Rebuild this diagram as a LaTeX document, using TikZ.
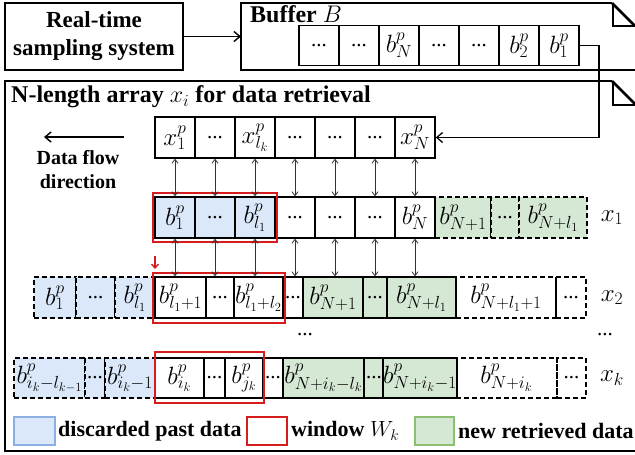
\RequirePackage{fix-cm}
\documentclass[tikz,border=0pt]{standalone}
\usepackage{fontspec}
\setmainfont{Liberation Serif}
\usetikzlibrary{arrows.meta}
\definecolor{bfill}{RGB}{218,232,250}
\definecolor{bedge}{RGB}{140,175,225}
\definecolor{gfill}{RGB}{213,232,212}
\definecolor{gedge}{RGB}{140,190,115}
\definecolor{wred}{RGB}{214,28,28}
\definecolor{arrgray}{RGB}{50,50,50}
\newcommand\dts{{\fontsize{21}{24}\selectfont ...}}
\begin{document}
\begin{tikzpicture}[x=1pt,y=-1pt,
  cellbox/.style={draw=black, line width=1.3pt, inner sep=0pt, minimum height=41pt, font=\fontsize{25}{27}\selectfont},
  dcell/.style={cellbox, dash pattern=on 5pt off 3pt, line width=1.6pt},
  bluec/.style={fill=bfill},
  greenc/.style={fill=gfill},
  win/.style={draw=wred, line width=1.6pt},
  bigbox/.style={draw=black, line width=2.6pt},
  dbl/.style={arrgray, line width=0.8pt, {Straight Barb[length=4pt,width=6pt]}-{Straight Barb[length=4pt,width=6pt]}},
  mainarrow/.style={black, line width=1.4pt, -{Straight Barb[length=6pt,width=10pt]}},
  lbl/.style={font=\bfseries\fontsize{22}{24}\selectfont, inner sep=0pt},
  rowlbl/.style={font=\fontsize{25}{27}\selectfont, inner sep=0pt}
]
\useasboundingbox (0,0) rectangle (635,455);

% ---------- top: sampling system and buffer ----------
\node[bigbox, minimum width=178pt, minimum height=67pt, align=center,
      font=\bfseries\fontsize{23}{28}\selectfont] (rt) at (94,36.5) {Real-time\\sampling system};

\draw[bigbox] (612,3) -- (241,3) -- (241,70) -- (635,70);
\draw[bigbox] (612,3) -- (635,26);
\draw[black, line width=2.2pt] (613,3) -- (613,26) -- (635,26);
\coordinate (bufW) at (241,36.5);
\node[lbl, anchor=base west, font=\bfseries\fontsize{24}{26}\selectfont] (buftitle) at (250,23) {Buffer $B$};

\begin{scope}[every node/.style={cellbox, minimum width=40pt, minimum height=40pt}]
\node (bu1) at (319,45.5) {\dts};
\node (bu2) at (359,45.5) {\dts};
\node (bu3) at (399,45.5) {$b^p_N$};
\node (bu4) at (439,45.5) {\dts};
\node (bu5) at (479,45.5) {\dts};
\node (bu6) at (519,45.5) {$b^p_2$};
\node (bu7) at (559,45.5) {$b^p_1$};
\end{scope}

\draw[mainarrow] (rt.east) -- (bufW);

% ---------- main box ----------
\draw[bigbox] (612,81) -- (5,81) -- (5,451) -- (635,451);
\draw[bigbox] (612,81) -- (635,104);
\draw[black, line width=2.2pt] (613,81) -- (613,105) -- (635,105);
\node[lbl, anchor=west, font=\bfseries\fontsize{24}{26}\selectfont] (title) at (11,97) {N-length array $x_i$ for data retrieval};

% data flow direction
\coordinate (df1) at (124,137);
\coordinate (df2) at (44,137);
\draw[mainarrow] (df1) -- (df2);
\node[lbl, align=center, font=\bfseries\fontsize{20}{24}\selectfont] (dftext) at (78,170) {Data flow\\direction};

% x row
\begin{scope}[every node/.style={cellbox, minimum width=40pt}]
\node (xa1) at (175,137.5) {$x^p_1$};
\node (xa2) at (215,137.5) {\dts};
\node (xa3) at (255,137.5) {$x^p_{l_k}$};
\node (xa4) at (295,137.5) {\dts};
\node (xa5) at (335,137.5) {\dts};
\node (xa6) at (375,137.5) {\dts};
\node (xa7) at (415,137.5) {$x^p_N$};
\end{scope}

\coordinate (turn) at (599,137.5);
\draw[mainarrow, line width=1.3pt] (bu7.east) -| (turn) -- (xa7.east);

% x1 row
\node[dcell, greenc, minimum width=56pt] (ra8) at (463,217.5) {$b^p_{N+1}$};
\node[dcell, greenc, minimum width=28pt] (ra9) at (505,217.5) {\dts};
\node[dcell, greenc, minimum width=68pt] (ra10) at (553,217.5) {$b^p_{N+l_1}$};
\begin{scope}[every node/.style={cellbox, minimum width=40pt}]
\node[bluec] (ra1) at (175,217.5) {$b^p_1$};
\node[bluec] (ra2) at (215,217.5) {\dts};
\node[bluec] (ra3) at (255,217.5) {$b^p_{l_1}$};
\node (ra4) at (295,217.5) {\dts};
\node (ra5) at (335,217.5) {\dts};
\node (ra6) at (375,217.5) {\dts};
\node (ra7) at (415,217.5) {$b^p_N$};
\end{scope}
\node[rowlbl] (lx1) at (612,217.5) {$x_1$};
\draw[win] (153,193) rectangle (277,242);

% x2 row
\node[dcell, bluec, minimum width=42pt] (sb1) at (55,297.5) {$b^p_1$};
\node[dcell, bluec, minimum width=39pt] (sb2) at (95.5,297.5) {\dts};
\node[dcell, bluec, minimum width=40pt] (sb3) at (135,297.5) {$b^p_{l_1}$};
\node[dcell, minimum width=100pt] (sb11) at (506,297.5) {$b^p_{N+l_1+1}$};
\node[dcell, minimum width=30pt] (sb12) at (571,297.5) {\dts};
\node[cellbox, minimum width=51pt] (sb4) at (180.5,297.5) {$b^p_{l_1+1}$};
\node[cellbox, minimum width=28pt] (sb5) at (220,297.5) {\dts};
\node[cellbox, minimum width=49pt] (sb6) at (258.5,297.5) {$b^p_{l_1+l_2}$};
\node[cellbox, minimum width=20pt] (sb7) at (293,297.5) {\dts};
\node[cellbox, greenc, minimum width=60pt] (sb8) at (333,297.5) {$b^p_{N+1}$};
\node[cellbox, greenc, minimum width=24pt] (sb9) at (375,297.5) {\dts};
\node[cellbox, greenc, minimum width=69pt] (sb10) at (421.5,297.5) {$b^p_{N+l_1}$};
\node[rowlbl] (lx2) at (612,297.5) {$x_2$};
\draw[win] (153,273) rectangle (285,323);

% arrows between rows
\foreach \i in {1,...,7} {
  \draw[dbl] (xa\i.south) -- (ra\i.north);
  \draw[dbl] (ra\i.south) -- (ra\i.south |- sb4.north);
}
\coordinate (rs) at (155,256);
\coordinate (re) at (155,269);
\draw[wred, line width=1.3pt, -{Straight Barb[length=4pt,width=7pt]}] (rs) -- (re);

% vertical dots
\node[inner sep=0pt] (vd1) at (305,335) {\dts};
\node[inner sep=0pt] (vd2) at (605,335) {\dts};

% xk row
\node[dcell, bluec, minimum width=71pt, minimum height=40pt] (kb1) at (49.5,378) {$b^p_{i_k-l_{k-1}}$};
\node[dcell, bluec, minimum width=20pt, minimum height=40pt] (kb2) at (95,378) {\dts};
\node[dcell, bluec, minimum width=50pt, minimum height=40pt] (kb3) at (130,378) {$b^p_{i_k-1}$};
\node[dcell, minimum width=101pt, minimum height=40pt] (kb11) at (506.5,378) {$b^p_{N+i_k}$};
\node[dcell, minimum width=29pt, minimum height=40pt] (kb12) at (571.5,378) {\dts};
\begin{scope}[every node/.style={cellbox, minimum height=40pt}]
\node[minimum width=49pt] (kb4) at (179.5,378) {$b^p_{i_k}$};
\node[minimum width=21pt] (kb5) at (214.5,378) {\dts};
\node[minimum width=38pt] (kb6) at (244,378) {$b^p_{j_k}$};
\node[minimum width=20pt] (kb7) at (273,378) {\dts};
\node[greenc, minimum width=81pt] (kb8) at (323.5,378) {$b^p_{N+i_k-l_k}$};
\node[greenc, minimum width=20pt] (kb9) at (374,378) {\dts};
\node[greenc, minimum width=72pt] (kb10) at (420,378) {$b^p_{N+i_k-1}$};
\end{scope}
\node[rowlbl] (lxk) at (612,378) {$x_k$};
\draw[win] (155,352) rectangle (264,403);

% legend
\node[draw=bedge, fill=bfill, line width=1.2pt, minimum width=41pt, minimum height=28pt, inner sep=0pt] (lgb) at (34.5,431) {};
\node[lbl, anchor=west] (lgbt) at (58,431) {discarded past data};
\node[draw=wred, line width=1.6pt, minimum width=40pt, minimum height=28pt, inner sep=0pt] (lgr) at (267,431) {};
\node[lbl, anchor=west] (lgrt) at (291,431) {window $W_k$};
\node[draw=gedge, fill=gfill, line width=1.2pt, minimum width=39pt, minimum height=28pt, inner sep=0pt] (lgg) at (434.5,431) {};
\node[lbl, anchor=west] (lggt) at (458,431) {new retrieved data};
\end{tikzpicture}
\end{document}
